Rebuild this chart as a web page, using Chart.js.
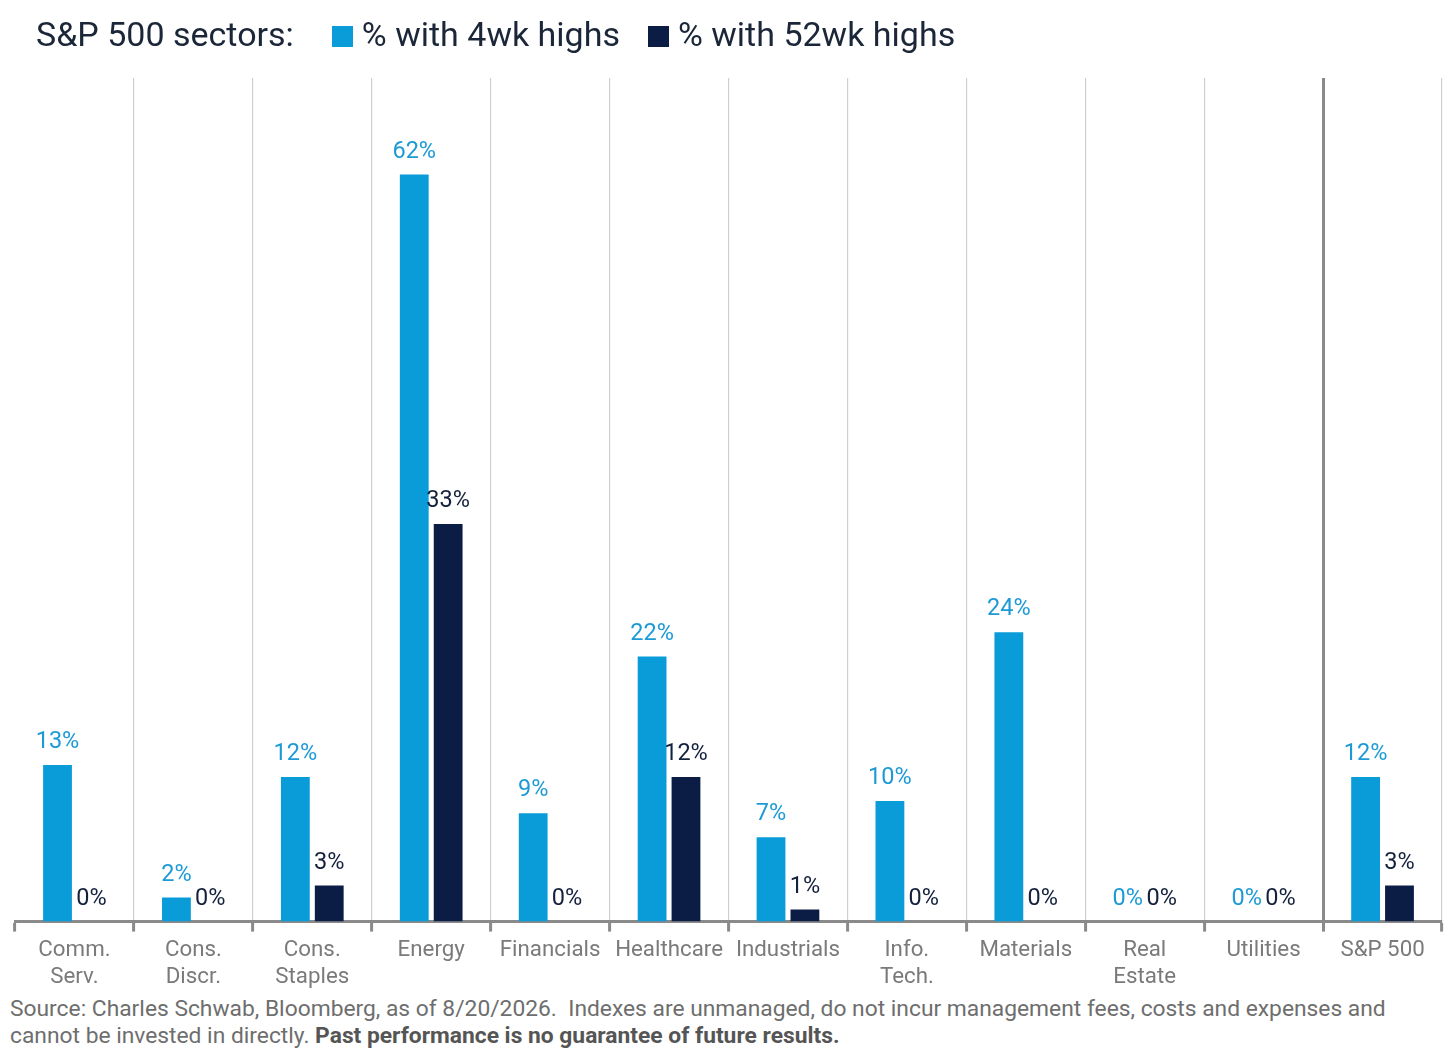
<!DOCTYPE html>
<html>
<head>
<meta charset="utf-8">
<script src="https://cdn.jsdelivr.net/npm/chart.js@4/dist/chart.umd.min.js"></script>
<style>
  body { margin: 0; background: #fff; font-family: Roboto, "Noto Sans", sans-serif; }
  #page { position: relative; width: 1456px; height: 1058px; overflow: hidden; }
  #header { position: absolute; left: 36px; top: 14px; font-size: 34px; color: #1b2638; white-space: nowrap; }
  #header .sq { display: inline-block; width: 21px; height: 21px; vertical-align: -1px; margin-right: 9px; }
  #header .gap { display: inline-block; width: 38px; }
  #header .gap2 { display: inline-block; width: 28px; }
  #chartBox { position: absolute; left: 0; top: 0; width: 1456px; height: 988px; overflow: hidden; }
  #source { position: absolute; left: 10px; top: 995px; font-size: 22.8px; line-height: 27px; color: #6e6e6e; white-space: nowrap; }
  #source b { color: #555; }
</style>
</head>
<body>
<div id="page">
  <div id="chartBox"><canvas id="sectorChart" width="1456" height="996"></canvas></div>
  <div id="header">S&amp;P 500 sectors:<span class="gap"></span><span class="sq" style="background:#0a9bd9"></span>% with 4wk highs<span class="gap2"></span><span class="sq" style="background:#0c1d45"></span>% with 52wk highs</div>
  <div id="source">Source: Charles Schwab, Bloomberg, as of 8/20/2026.&nbsp; Indexes are unmanaged, do not incur management fees, costs and expenses and<br>cannot be invested in directly. <b>Past performance is no guarantee of future results.</b></div>
</div>
<script>
const sectors = [
  ['Comm.', 'Serv.'], ['Cons.', 'Discr.'], ['Cons.', 'Staples'], 'Energy', 'Financials', 'Healthcare',
  'Industrials', ['Info.', 'Tech.'], 'Materials', ['Real', 'Estate'], 'Utilities', 'S&P 500'
];
const pct4wk = [13, 2, 12, 62, 9, 22, 7, 10, 24, 0, 0, 12];
const pct52wk = [0, 0, 3, 33, 0, 12, 1, 0, 0, 0, 0, 3];

const blue = '#0a9bd9';
const navy = '#0c1d45';

// draws the % value above each bar
const valueLabels = {
  id: 'valueLabels',
  afterDatasetsDraw(chart) {
    const c = chart.ctx;
    c.save();
    c.font = '23.5px Roboto, "Noto Sans", sans-serif';
    c.textAlign = 'center';
    c.textBaseline = 'bottom';
    chart.data.datasets.forEach((ds, i) => {
      c.fillStyle = i === 0 ? '#1d9ad6' : '#14213d';
      chart.getDatasetMeta(i).data.forEach((bar, j) => {
        c.fillText(ds.data[j] + '%', bar.x, bar.y - 11);
      });
    });
    c.restore();
  }
};

new Chart(document.getElementById('sectorChart'), {
  type: 'bar',
  data: {
    labels: sectors,
    datasets: [
      { label: '% with 4wk highs', data: pct4wk, backgroundColor: blue },
      { label: '% with 52wk highs', data: pct52wk, backgroundColor: navy }
    ]
  },
  options: {
    responsive: false,
    animation: false,
    categoryPercentage: 0.57,
    barPercentage: 0.85,
    layout: { padding: { left: 15, right: 14, top: 78, bottom: 0 } },
    plugins: {
      legend: { display: false },
      tooltip: { enabled: false }
    },
    scales: {
      y: { display: false, min: 0, max: 70 },
      x: {
        border: { color: '#8a8a8a', width: 3 },
        grid: {
          offset: true,
          drawOnChartArea: true,
          tickLength: 10,
          tickColor: '#8a8a8a',
          tickWidth: 3,
          color: (ctx) => {
            if (ctx.index === 0 || ctx.index === 12) return 'rgba(0,0,0,0)';
            if (ctx.index === 11) return '#8a8a8a';
            return '#cfcfcf';
          },
          lineWidth: (ctx) => ctx.index === 11 ? 3 : 1.2
        },
        ticks: {
          color: '#7a7a7a',
          padding: 5,
          maxRotation: 0,
          autoSkip: false,
          font: { family: 'Roboto, "Noto Sans", sans-serif', size: 22.3, lineHeight: 1.22 }
        }
      }
    }
  },
  plugins: [valueLabels]
});
</script>
</body>
</html>
